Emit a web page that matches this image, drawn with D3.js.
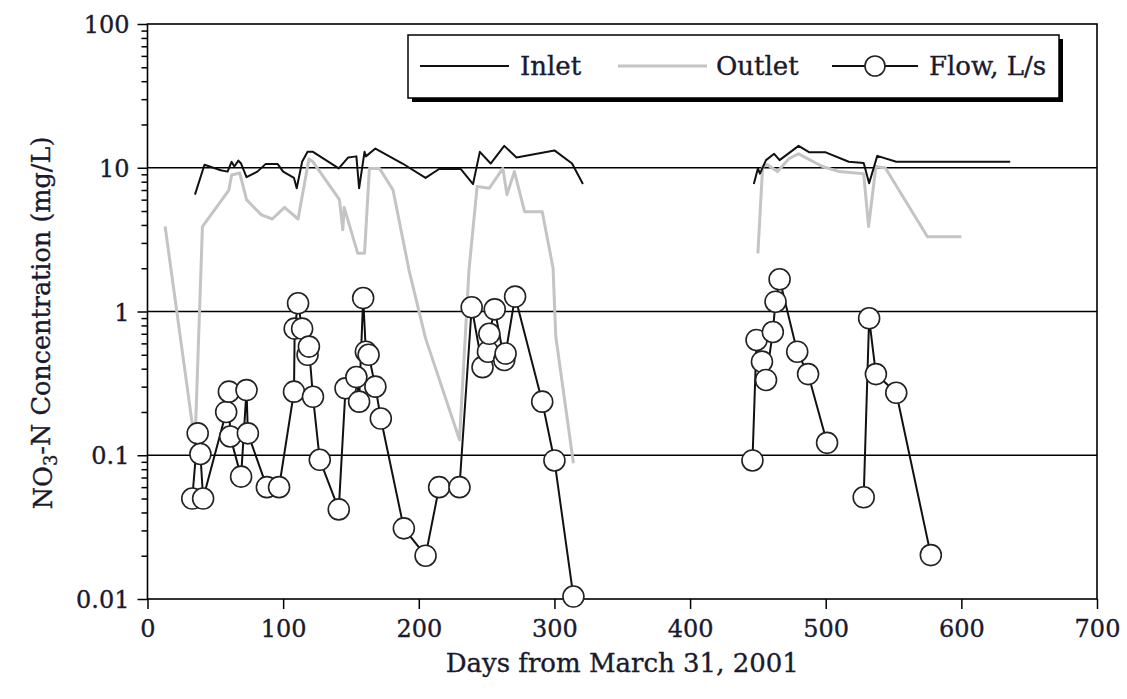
<!DOCTYPE html>
<html>
<head>
<meta charset="utf-8">
<script src="https://cdn.jsdelivr.net/npm/d3@7/dist/d3.min.js"></script>
<style>
  body { margin: 0; background: #fff; }
  text { font-family: "DejaVu Serif", "Liberation Serif", serif; fill: #1a1a2e; stroke: #1a1a2e; stroke-width: 0.35px; }
</style>
</head>
<body>
<svg id="chart" width="1127" height="699"></svg>
<script>
// [day, mg/L] pairs
const inlet1 = [[35,6.5],[42,10.5],[54,9.6],[59,9.4],[62,11],[64,10.2],[67,11.2],[69,10.7],[73,8.6],[81,9.4],[87,10.6],[96,10.6],[100,9.4],[108,8.5],[110,7.2],[114,11],[118,12.9],[122,12.9],[141,9.9],[148,11.8],[154,12],[156,7.2],[160,12.9],[161,12],[168,13.6],[188,10.7],[205,8.5],[215,9.8],[231,9.8],[240,7.7],[245,12.9],[253,10.7],[263,14.2],[272,11.8],[300,13.2],[313,10.7],[321,7.7]];
const inlet2 = [[447,7.7],[450,9.9],[451.5,9.1],[456,11.3],[462,12.5],[466,11.3],[480,14.2],[488,12.8],[500,12.8],[517,11.0],[528,10.8],[532,7.8],[538,12.1],[552,11.0],[636,11.0]];

const outlet1 = [[13,3.9],[35,0.12],[40.5,3.9],[60,7.0],[62,8.9],[68,9.2],[73,6.0],[84,4.7],[92,4.4],[101,5.3],[111,4.4],[119,11.5],[122,11.0],[141.5,6.0],[144,3.7],[145,5.3],[155,2.54],[160,2.54],[163.6,9.9],[171,9.9],[181,7.0],[193,1.9],[205,0.65],[230,0.128],[237,1.94],[243,7.4],[252,7.2],[262,9.9],[265,6.5],[270.5,9.4],[278,4.95],[291,4.95],[299,2.0],[301,0.67],[314,0.088]];
const outlet2 = [[450,2.54],[453.5,10.2],[457,10.5],[464.5,9.4],[473,11.6],[480,12.5],[497.6,10.2],[510,9.4],[528,9.1],[531.6,3.9],[537,10.2],[544,9.95],[575,3.31],[600,3.31]];

// flow, L/s
const flow1 = [[33,0.05],[37,0.142],[39,0.102],[41,0.05],[58,0.2],[60,0.277],[61,0.135],[69,0.071],[73,0.284],[74,0.142],[88,0.06],[97,0.06],[108,0.277],[108.5,0.76],[111,1.14],[114,0.76],[118,0.5],[119,0.57],[122,0.255],[127,0.093],[141,0.042],[146,0.292],[154,0.35],[156,0.236],[159,1.24],[161,0.525],[163,0.5],[168,0.3],[172,0.18],[189,0.031],[205,0.02],[215,0.06],[230,0.06],[239,1.07],[247,0.41],[251,0.525],[252,0.7],[256,1.035],[263,0.46],[264,0.51],[271,1.27],[291,0.236],[300,0.092],[314,0.0104]];
const flow2 = [[446,0.092],[449,0.634],[453,0.448],[456,0.334],[461,0.72],[463,1.17],[466,1.675],[479,0.525],[487,0.367],[501,0.122]];
const flow3 = [[528,0.051],[532,0.897],[537,0.367],[552,0.272],[577.5,0.0202]];

const xTicks = [0, 100, 200, 300, 400, 500, 600, 700];
const yTicks = [0.01, 0.1, 1, 10, 100];
const yTickLabels = ["0.01", "0.1", "1", "10", "100"];
const gridVals = [0.1, 1, 10];

const svg = d3.select("#chart");
const plotL = 147.5, plotR = 1097, plotT = 24, plotB = 599;

const x = d3.scaleLinear().domain([0, 700]).range([plotL, plotR]);
const y = d3.scaleLog().domain([0.01, 100]).range([plotB, plotT]);

// gridlines
svg.append("g")
  .selectAll("line")
  .data(gridVals)
  .enter()
  .append("line")
  .attr("x1", plotL).attr("x2", plotR)
  .attr("y1", d => y(d)).attr("y2", d => y(d))
  .attr("stroke", "#000")
  .attr("stroke-width", 1.5);

// minor y ticks
const minor = [];
for (let e = -2; e < 2; e++) {
  for (let k = 2; k <= 9; k++) minor.push(k * Math.pow(10, e));
}
svg.append("g")
  .attr("transform", `translate(${plotL},0)`)
  .call(d3.axisLeft(y).tickValues(minor).tickSize(6).tickFormat(""))
  .call(g => g.select(".domain").remove())
  .call(g => g.selectAll("line").attr("stroke-width", 1.5));

// y axis
const yAxis = svg.append("g")
  .attr("transform", `translate(${plotL},0)`)
  .call(d3.axisLeft(y).tickValues(yTicks).tickSize(10).tickPadding(8)
    .tickFormat((d, i) => yTickLabels[i]));
yAxis.selectAll("text").style("font-size", "24px").attr("dy", "0.36em");
yAxis.selectAll("line").attr("stroke-width", 1.5);
yAxis.select(".domain").remove();

// x axis
const xAxis = svg.append("g")
  .attr("transform", `translate(0,${plotB})`)
  .call(d3.axisBottom(x).tickValues(xTicks).tickSize(10).tickPadding(11).tickFormat(d3.format("d")));
xAxis.selectAll("text").style("font-size", "24px");
xAxis.selectAll("line").attr("stroke-width", 1.5);
xAxis.select(".domain").remove();

// frame
svg.append("rect")
  .attr("x", plotL).attr("y", plotT)
  .attr("width", plotR - plotL).attr("height", plotB - plotT)
  .attr("fill", "none")
  .attr("stroke", "#000")
  .attr("stroke-width", 1.6);

const line = d3.line().x(d => x(d[0])).y(d => y(d[1]));

// outlet (grey)
[outlet1, outlet2].forEach(s => {
  svg.append("path").datum(s)
    .attr("d", line)
    .attr("fill", "none")
    .attr("stroke", "#c4c4c4")
    .attr("stroke-width", 3)
    .attr("stroke-linejoin", "round");
});

// inlet (black)
[inlet1, inlet2].forEach(s => {
  svg.append("path").datum(s)
    .attr("d", line)
    .attr("fill", "none")
    .attr("stroke", "#111")
    .attr("stroke-width", 2)
    .attr("stroke-linejoin", "round");
});

// flow
[flow1, flow2, flow3].forEach(s => {
  svg.append("path").datum(s)
    .attr("d", line)
    .attr("fill", "none")
    .attr("stroke", "#111")
    .attr("stroke-width", 2);
  svg.append("g")
    .selectAll("circle")
    .data(s)
    .enter()
    .append("circle")
    .attr("cx", d => x(d[0]))
    .attr("cy", d => y(d[1]))
    .attr("r", 10.5)
    .attr("fill", "#fff")
    .attr("stroke", "#222")
    .attr("stroke-width", 1.6);
});

// axis titles
svg.append("text")
  .attr("x", (plotL + plotR) / 2)
  .attr("y", 672)
  .attr("text-anchor", "middle")
  .style("font-size", "26px")
  .text("Days from March 31, 2001");

const yt = svg.append("text")
  .attr("transform", `translate(52,323) rotate(-90)`)
  .attr("text-anchor", "middle")
  .style("font-size", "25.5px");
yt.append("tspan").text("NO");
yt.append("tspan").attr("dy", "0.3em").style("font-size", "18px").text("3");
yt.append("tspan").attr("dy", "-0.3em").text("-N Concentration (mg/L)");

// legend
const lg = svg.append("g");
lg.append("rect")
  .attr("x", 412).attr("y", 39).attr("width", 651).attr("height", 63)
  .attr("fill", "#000");
lg.append("rect")
  .attr("x", 408).attr("y", 35).attr("width", 651).attr("height", 63)
  .attr("fill", "#fff").attr("stroke", "#000").attr("stroke-width", 1.5);

const ly = 66;
lg.append("line").attr("x1", 420).attr("x2", 509).attr("y1", ly).attr("y2", ly)
  .attr("stroke", "#111").attr("stroke-width", 2);
lg.append("text").attr("x", 520).attr("y", ly + 9).style("font-size", "26px").text("Inlet");

lg.append("line").attr("x1", 618).attr("x2", 707).attr("y1", ly).attr("y2", ly)
  .attr("stroke", "#c4c4c4").attr("stroke-width", 3);
lg.append("text").attr("x", 716).attr("y", ly + 9).style("font-size", "26px").text("Outlet");

lg.append("line").attr("x1", 832).attr("x2", 918).attr("y1", ly).attr("y2", ly)
  .attr("stroke", "#111").attr("stroke-width", 2);
lg.append("circle").attr("cx", 875).attr("cy", ly).attr("r", 10)
  .attr("fill", "#fff").attr("stroke", "#222").attr("stroke-width", 1.6);
lg.append("text").attr("x", 929).attr("y", ly + 9).style("font-size", "26px").text("Flow, L/s");
</script>
</body>
</html>
